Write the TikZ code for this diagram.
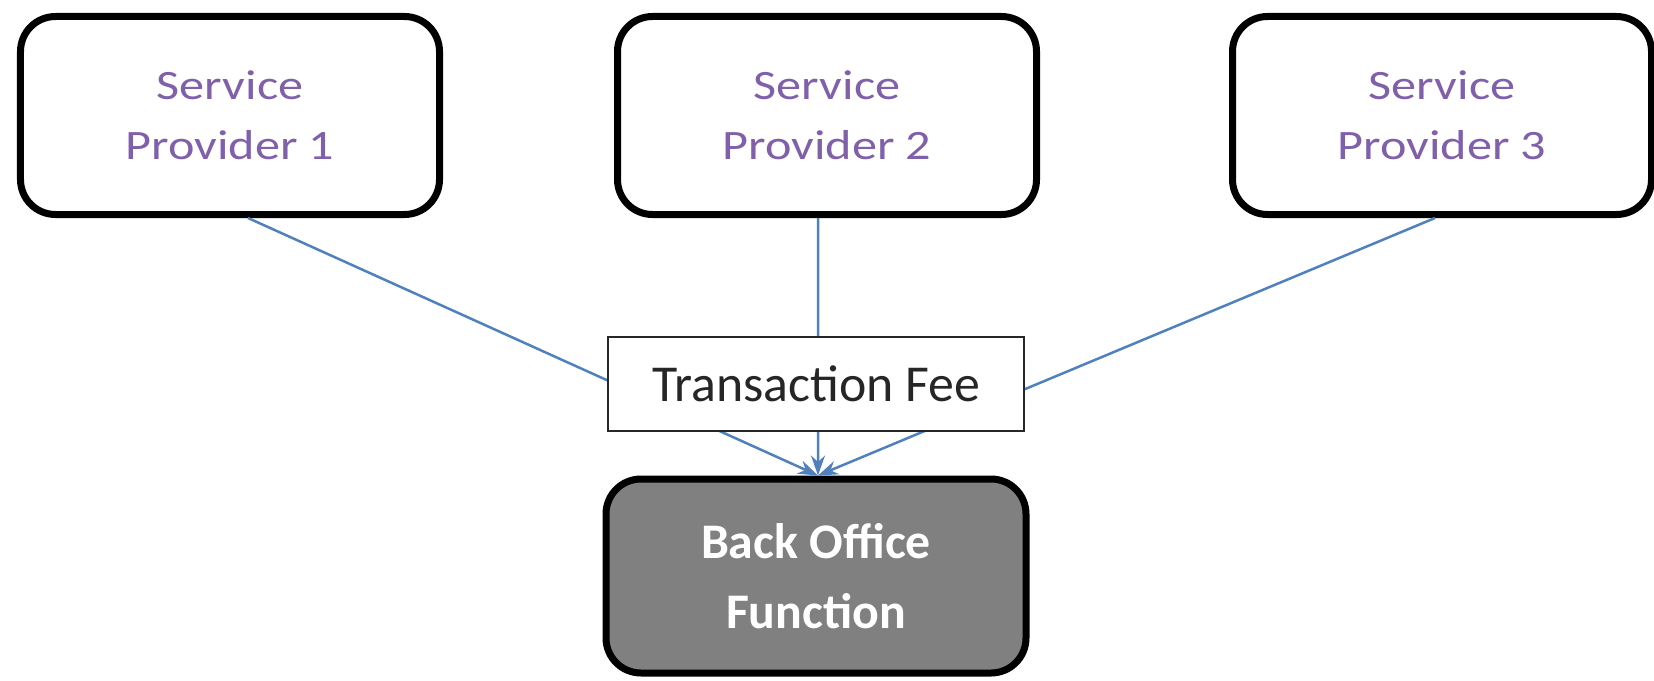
\documentclass[tikz,border=0pt]{standalone}
\usepackage{fontspec}
\setmainfont{Carlito}
\newfontfamily\provfont[FakeStretch=1.2]{Carlito}
\usetikzlibrary{arrows.meta}
\definecolor{provtext}{RGB}{128,96,170}
\definecolor{lnk}{RGB}{79,129,189}
\definecolor{bofill}{RGB}{128,128,128}
\begin{document}
\begin{tikzpicture}[x=1bp,y=-1bp,
  provbox/.style={draw=black, line width=7bp, rounded corners=35bp, fill=white,
    minimum width=419bp, minimum height=198bp, align=center, text=provtext,
    font=\provfont\fontsize{42}{60}\selectfont, inner sep=0pt},
  feebox/.style={draw=black!85, line width=2.5bp, fill=white,
    minimum width=416bp, minimum height=94bp, inner sep=0pt,
    font=\fontsize{52}{60}\selectfont, text=black!85},
  officebox/.style={draw=black, line width=7bp, rounded corners=35bp, fill=bofill,
    minimum width=420bp, minimum height=194bp, align=center, text=white,
    font=\bfseries\fontsize{50}{70}\selectfont, inner sep=0pt},
  link/.style={draw=lnk, line width=2.5bp, -{Stealth[length=20bp,width=14bp]}}]
\useasboundingbox (0,0) rectangle (1654,681);
\node[provbox] (p1) at (230,115.5) {Service\\Provider 1};
\node[provbox] (p2) at (827,115.5) {Service\\Provider 2};
\node[provbox] (p3) at (1442,115.5) {Service\\Provider 3};
\node[officebox] (bo) at (816,576) {Back Office\\Function};
\draw[link] ([xshift=18bp]p1.south) -- ([xshift=2bp]bo.north);
\draw[link] ([xshift=-9bp]p2.south) -- ([xshift=2bp]bo.north);
\draw[link] ([xshift=-7bp]p3.south) -- ([xshift=2bp]bo.north);
\node[feebox] (fee) at (816,384) {Transaction Fee};
\end{tikzpicture}
\end{document}
